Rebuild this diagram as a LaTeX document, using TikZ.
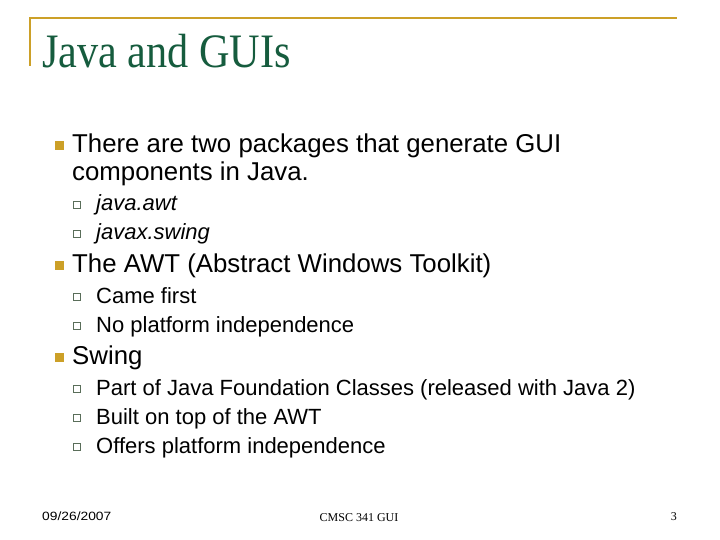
\documentclass[tikz,border=0pt]{standalone}
\usepackage{fontspec}
\setmainfont{Liberation Serif}
\setsansfont{Liberation Sans}
\definecolor{gold}{RGB}{204,160,40}
\definecolor{ttl}{RGB}{22,92,62}
\definecolor{sub}{RGB}{90,110,90}
\begin{document}
\begin{tikzpicture}[x=1pt,y=-1pt,
  lone/.style={anchor=base west,inner sep=0,font=\sffamily\fontsize{25.8}{26}\selectfont},
  ltwo/.style={anchor=base west,inner sep=0,font=\sffamily\fontsize{22}{22}\selectfont},
  foot/.style={anchor=base,inner sep=0,font=\rmfamily\fontsize{12}{12}\selectfont},
  bl/.style={fill=gold,draw=none,minimum size=9pt,inner sep=0},
  sb/.style={draw=sub,line width=0.9pt,fill=white,minimum size=6.5pt,inner sep=0}]
\useasboundingbox (0,0) rectangle (720,540);
\fill[white] (0,0) rectangle (720,540);
\draw[gold,line width=2.5pt] (30,66) -- (30,18) -- (677,18);
\node[anchor=base west,inner sep=0,text=ttl,xscale=0.88,font=\rmfamily\fontsize{48}{48}\selectfont] (t) at (42,68) {Java and GUIs};
% level one
\node[bl] (b1) at (59,146) {};
\node[lone] (l1) at (72,153) {There are two packages that generate GUI};
\node[lone] (l1b) at (72,181) {components in Java.};
\node[sb] (s1) at (77,205) {};
\node[ltwo] (t1) at (96,211) {\itshape java.awt};
\node[sb] (s2) at (77,234) {};
\node[ltwo] (t2) at (96,240) {\itshape javax.swing};
\node[bl] (b2) at (59,265) {};
\node[lone] (l2) at (72,272) {The AWT (Abstract Windows Toolkit)};
\node[sb] (s3) at (77,297) {};
\node[ltwo] (t3) at (96,303) {Came first};
\node[sb] (s4) at (77,326) {};
\node[ltwo] (t4) at (96,332) {No platform independence};
\node[bl] (b3) at (59,357) {};
\node[lone] (l3) at (72,364) {Swing};
\node[sb] (s5) at (77,389) {};
\node[ltwo] (t5) at (96,395) {Part of Java Foundation Classes (released with Java 2)};
\node[sb] (s6) at (77,418) {};
\node[ltwo] (t6) at (96,424) {Built on top of the AWT};
\node[sb] (s7) at (77,447) {};
\node[ltwo] (t7) at (96,453) {Offers platform independence};
% footer
\node[anchor=base west,inner sep=0,font=\sffamily\fontsize{12}{12}\selectfont,xscale=1.15] (f1) at (42,520) {09/26/2007};
\node[foot] (f2) at (359,521) {CMSC 341 GUI};
\node[foot,anchor=base east] (f3) at (677,520) {3};
\end{tikzpicture}
\end{document}
